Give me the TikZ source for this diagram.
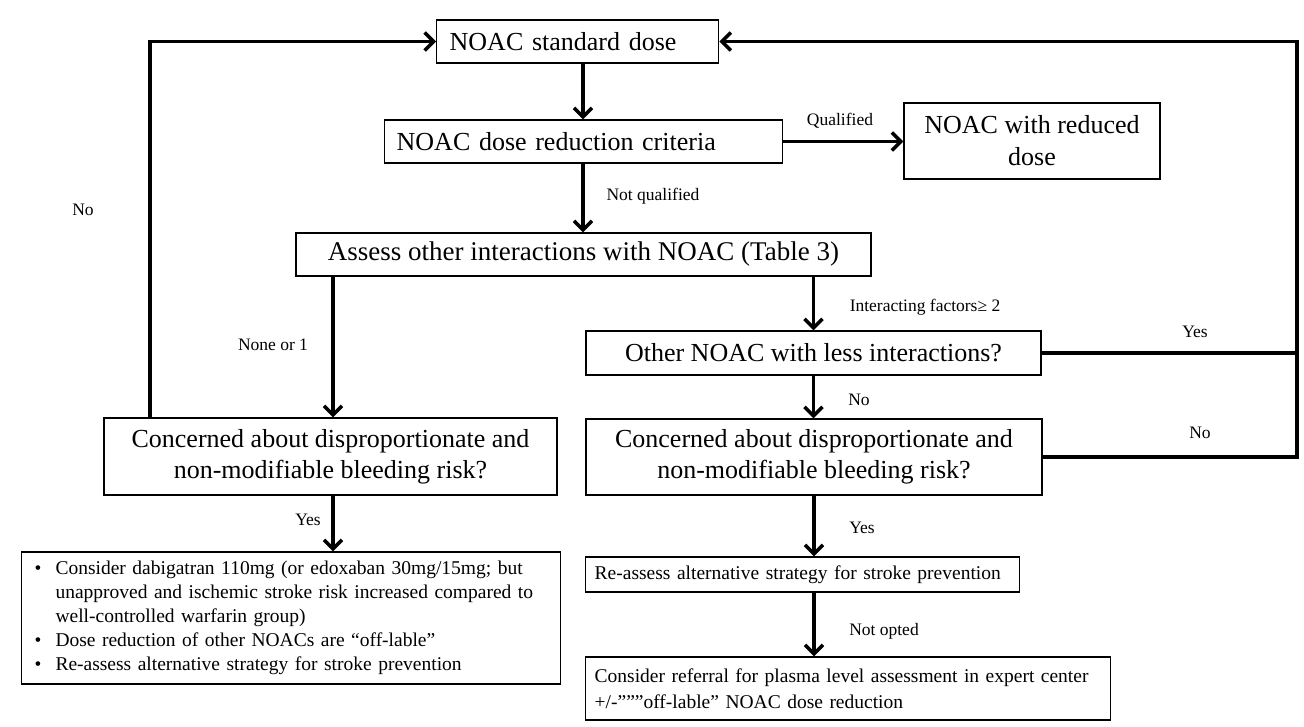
\documentclass[tikz,border=0pt]{standalone}
\usepackage{fontspec}
\setmainfont{Liberation Serif}
\usetikzlibrary{arrows.meta,calc}
\begin{document}
\begin{tikzpicture}[x=1pt,y=-1pt,
  box/.style={draw,line width=1.4pt,inner sep=0pt,align=center,font=\fontsize{26}{31}\selectfont},
  lbox/.style={draw,line width=1.4pt,inner xsep=9pt,inner ysep=0pt,align=left,font=\fontsize{19.5}{25}\selectfont},
  lbl/.style={font=\fontsize{17.5}{20}\selectfont,inner sep=0pt},
  arr/.style={line width=3.5pt,line join=miter,-{Straight Barb[length=9pt,width=18pt]}},
  ln/.style={line width=3.5pt,line join=miter}]
\useasboundingbox (0,0) rectangle (1304,727);
% boxes
\node[lbox,anchor=west,inner xsep=13pt,text width=256pt,minimum height=43pt,font=\fontsize{26}{31}\selectfont] (b1) at (436,41.5) {\mbox{NOAC standard dose}};
\node[lbox,anchor=west,inner xsep=12pt,text width=374pt,minimum height=43pt,font=\fontsize{26}{31}\selectfont] (b2) at (384,141.5) {\mbox{NOAC dose reduction criteria}};
\node[box,minimum width=256pt,minimum height=76pt,font=\fontsize{26}{32}\selectfont] (b3) at (1032,141) {NOAC with reduced\\dose};
\node[box,minimum width=575pt,minimum height=43pt,font=\fontsize{27}{31}\selectfont] (b4) at (583.5,254.5) {Assess other interactions with NOAC (Table 3)};
\node[box,minimum width=453pt,minimum height=77pt] (b5) at (330.5,456.5) {Concerned about disproportionate and\\non-modifiable bleeding risk?};
\node[box,minimum width=455pt,minimum height=44pt] (b6) at (813.5,353) {Other NOAC with less interactions?};
\node[box,minimum width=456pt,minimum height=76pt] (b7) at (814,457) {Concerned about disproportionate and\\non-modifiable bleeding risk?};
\node[lbox,anchor=west,text width=519pt,inner xsep=10pt,minimum height=132pt,font=\fontsize{19.5}{24}\selectfont] (b8) at (21,618)
 {\begin{tabular}{@{\hspace{3pt}}l@{\hspace{14pt}}l@{}}
  • & Consider dabigatran 110mg (or edoxaban 30mg/15mg; but\\
    & unapproved and ischemic stroke risk increased compared to\\
    & well-controlled warfarin group)\\
  • & Dose reduction of other NOACs are “off-lable”\\
  • & Re-assess alternative strategy for stroke prevention
 \end{tabular}};
\node[lbox,anchor=west,text width=416pt,minimum height=35pt] (b9) at (585,574.5) {\mbox{Re-assess alternative strategy for stroke prevention}};
\node[lbox,anchor=west,text width=507pt,minimum height=63pt,font=\fontsize{19.5}{26}\selectfont] (b10) at (585,688.5) {\mbox{Consider referral for plasma level assessment in expert center}\\\mbox{+/-”””off-lable” NOAC dose reduction}};
% labels
\node[lbl] (lq) at (840,121) {Qualified};
\node[lbl] (lnq) at (653,196) {Not qualified};
\node[lbl] (ln1) at (273,345) {None or 1};
\node[lbl] (lif) at (925,307) {Interacting factors≥ 2};
\node[lbl] (ly1) at (1195,332) {Yes};
\node[lbl] (lno1) at (1200,433) {No};
\node[lbl] (lno2) at (859,400) {No};
\node[lbl] (lno3) at (83,210) {No};
\node[lbl] (ly2) at (308,520) {Yes};
\node[lbl] (ly3) at (862,528) {Yes};
\node[lbl] (lnop) at (884,631) {Not opted};
% helper coordinates
\coordinate (lx) at (333,0);
\coordinate (cx) at (583,0);
\coordinate (lt) at (150,41.5);
\coordinate (rx) at (1297,0);
\coordinate (rt) at (1297,41.5);
% connectors
\draw[arr] (b1.south -| cx) -- (b2.north -| cx);
\draw[arr] (b2.east) -- (b2.east -| b3.west);
\draw[arr] (b2.south -| cx) -- (b4.north -| cx);
\draw[arr] (b4.south -| lx) -- (b5.north -| lx);
\draw[arr] (b4.south -| b6.north) -- (b6.north);
\draw[arr] (b6.south) -- (b6.south |- b7.north);
\draw[arr] (b5.south -| lx) -- (b8.north -| lx);
\draw[arr] (b7.south) -- (b7.south |- b9.north);
\draw[arr] (b7.south |- b9.south) -- (b7.south |- b10.north);
\draw[arr] (b5.north -| lt) -- (lt) -- (b1.west);
\draw[ln] (b6.east) -- (b6.east -| rx);
\draw[arr] (b7.east) -- (b7.east -| rx) -- (rt) -- (b1.east);
\end{tikzpicture}
\end{document}
